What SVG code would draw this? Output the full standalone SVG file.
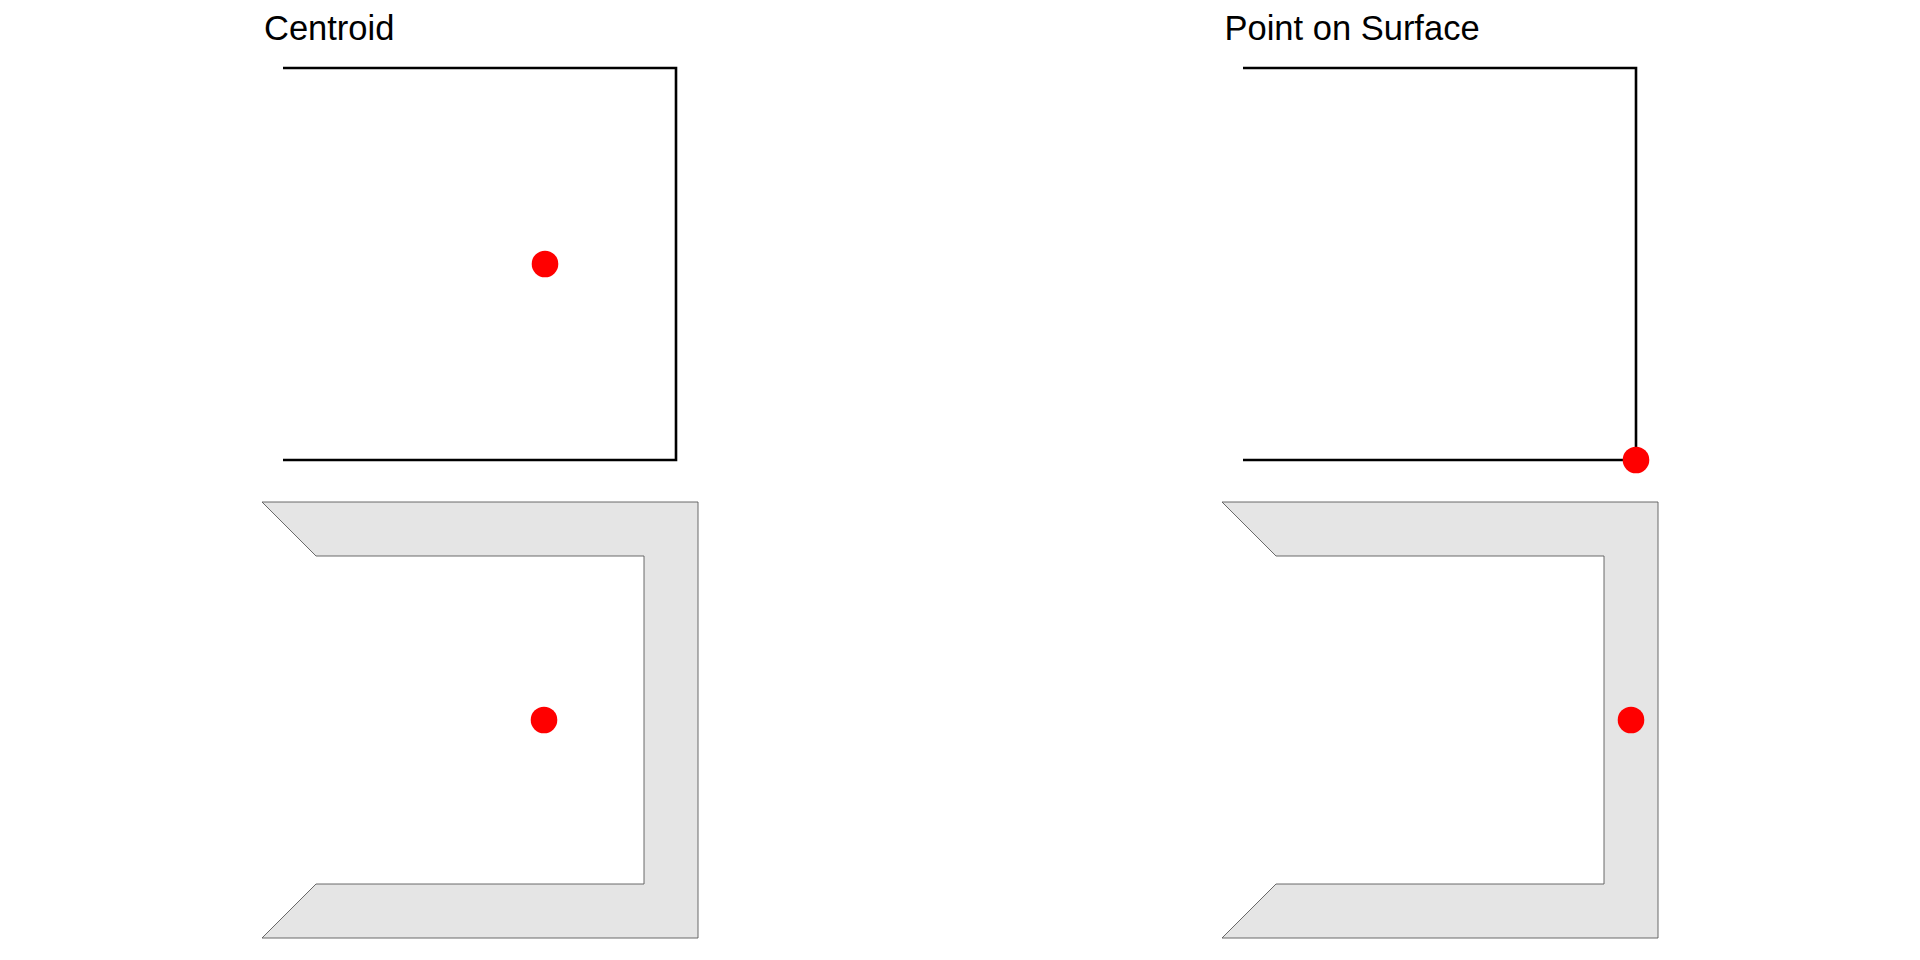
<svg xmlns="http://www.w3.org/2000/svg" width="1920" height="960" viewBox="0 0 1920 960">
  <style>
    .title { font-family: "Liberation Sans", Arial, sans-serif; font-size: 34.5px; fill: #000000; }
    .line { fill: none; stroke: #000000; stroke-width: 2.6; stroke-linejoin: miter; stroke-linecap: butt; }
    .poly { fill: #E5E5E5; stroke: #595959; stroke-width: 0.9; stroke-linejoin: miter; }
    .dot { fill: #FF0000; }
  </style>
  <defs>
    <polyline id="ushape" points="283,68 676,68 676,460 283,460"/>
    <polygon id="cshape" points="262,502 698,502 698,938 262,938 316,884 644,884 644,556 316,556"/>
  </defs>
  <rect x="0" y="0" width="1920" height="960" fill="#FFFFFF"/>

  <g id="panel-centroid">
    <text class="title" x="264" y="40">Centroid</text>
    <g id="centroid-line">
      <use href="#ushape" class="line"/>
      <circle class="dot" cx="545" cy="264" r="13.3"/>
    </g>
    <g id="centroid-polygon">
      <use href="#cshape" class="poly"/>
      <circle class="dot" cx="544" cy="720" r="13.3"/>
    </g>
  </g>

  <g id="panel-point-on-surface" transform="translate(960,0)">
    <text class="title" x="264.5" y="40">Point on Surface</text>
    <g id="pos-line">
      <use href="#ushape" class="line"/>
      <circle class="dot" cx="676" cy="460" r="13.3"/>
    </g>
    <g id="pos-polygon">
      <use href="#cshape" class="poly"/>
      <circle class="dot" cx="671" cy="720" r="13.3"/>
    </g>
  </g>
</svg>
